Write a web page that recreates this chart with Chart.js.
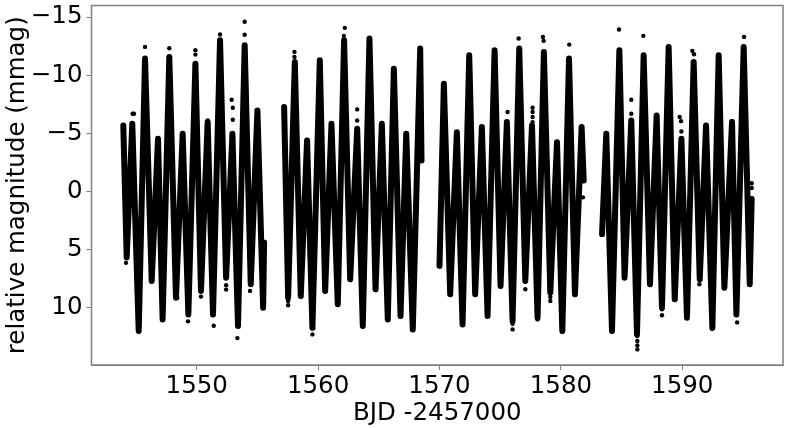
<!DOCTYPE html>
<html>
<head>
<meta charset="utf-8">
<script src="https://cdn.jsdelivr.net/npm/chart.js@4"></script>
<style>body{margin:0;background:#fff}</style>
</head>
<body>
<canvas id="grafico" width="789" height="428"></canvas>
<script>
const xTicks = [1550, 1560, 1570, 1580, 1590];
const yTicks = [-15, -10, -5, 0, 5, 10];

// turning points of the light curve, null marks the gaps between orbits
const tempo = [
  1543.95,1544.23,1544.69,1545.22,1545.74,1546.29,1546.81,1547.19,1547.74,1548.29,1548.84,1549.31,
  1549.89,1550.35,1550.90,1551.34,1551.92,1552.42,1552.94,1553.40,1553.95,1554.45,1555.00,1555.47,1555.55,
  1556.5,
  1557.20,1557.53,1558.08,1558.57,1559.09,1559.53,1560.14,1560.58,1561.10,1561.62,1562.14,1562.64,
  1563.22,1563.68,1564.23,1564.73,1565.25,1565.74,1566.24,1566.79,1567.26,1567.80,1568.41,1568.52,
  1569.3,
  1570.00,1570.36,1570.88,1571.43,1571.90,1572.45,1572.94,1573.49,1573.96,1574.54,1575.03,1575.55,
  1576.02,1576.57,1577.07,1577.62,1578.08,1578.60,1579.13,1579.68,1580.12,1580.67,1581.16,1581.71,1581.88,
  1582.5,
  1583.39,1583.74,1584.21,1584.82,1585.25,1585.80,1586.27,1586.82,1587.34,1587.89,1588.33,1588.88,
  1589.38,1589.93,1590.39,1590.94,1591.44,1591.96,1592.48,1593.00,1593.47,1594.10,1594.46,1595.06,1595.56,1595.72
];
const magnitude = [
  -5.69,5.66,-5.83,11.98,-11.44,7.67,-4.54,10.98,-11.58,9.11,-4.97,10.55,
  -11.0,8.53,-5.98,10.55,-13.02,7.39,-4.97,11.55,-12.59,7.96,-6.98,9.97,4.37,
  null,
  -7.27,9.11,-11.15,8.97,-4.40,11.70,-11.29,8.53,-5.83,9.68,-13.02,7.53,
  -5.40,11.55,-13.16,8.39,-5.83,10.98,-10.57,10.69,-4.97,11.84,-12.30,-2.67,
  null,
  6.38,-9.28,8.82,-5.11,11.41,-11.72,8.82,-5.55,10.69,-12.16,8.10,-5.98,
  11.12,-12.30,7.67,-5.69,10.83,-12.01,8.68,-4.25,11.98,-11.44,8.82,-5.55,-0.95,
  null,
  3.65,-4.97,11.98,-12.16,7.39,-6.12,12.27,-11.72,7.96,-6.55,9.97,-12.44,
  9.25,-4.54,10.83,-11.15,7.53,-5.69,11.70,-11.72,8.25,-5.98,10.55,-12.44,7.96,0.63
];

// isolated points off the main band
const tempoSolto = [
  1545.74,1547.74,1549.89,1549.89,1551.92,1552.88,1552.97,1552.97,1553.95,1553.95,1544.72,1544.83,1550.90,1544.17,
  1549.28,1550.35,1548.40,1551.40,1552.42,1552.42,1553.35,1554.39,
  1557.53,1557.53,1558.05,1558.05,1562.20,1562.12,1563.22,1563.22,1559.59,1559.53,1566.79,
  1576.52,1578.52,1578.58,1580.69,1575.61,1577.67,1577.67,1577.67,1577.67,1577.07,1576.02,1576.02,1579.13,1579.13,
  1578.08,1578.08,1580.12,1581.82,
  1584.79,1586.79,1585.80,1585.80,1589.79,1589.90,1589.93,1590.83,1590.97,1595.09,1591.96,1594.10,
  1586.30,1586.30,1586.30,1586.30,1588.33,1588.33,1591.41,1592.45,1594.52,1595.72,1595.72
];
const magnitudeSolta = [
  -12.44,-12.33,-12.16,-11.78,-13.51,-7.90,-7.21,-6.18,-14.60,-13.48,-6.70,-6.70,-6.12,6.12,
  11.15,9.02,9.11,11.52,8.05,8.42,12.59,8.53,
  9.40,9.77,-12.01,-11.58,-14.08,-13.39,-7.07,-6.12,11.75,12.27,10.75,
  -13.16,-13.30,-12.96,-12.64,-6.84,-7.21,-6.84,-6.41,-5.98,8.39,11.84,11.35,9.05,9.40,
  10.69,10.98,12.04,0.49,
  -13.94,-13.39,-7.90,-6.70,-6.41,-6.06,-5.17,-12.10,-11.81,-13.30,-5.63,-6.06,
  13.56,13.22,12.84,12.41,10.63,10.11,7.96,11.78,11.24,-0.72,-0.32
];

const cinza = "#808080";
const fonte = { family: "'DejaVu Sans'", size: 24.5 };

const moldura = {
  id: "moldura",
  afterDraw(chart) {
    const { ctx, chartArea: a } = chart;
    ctx.save();
    ctx.strokeStyle = cinza;
    ctx.lineWidth = 1.5;
    ctx.strokeRect(a.left, a.top, a.right - a.left, a.bottom - a.top);
    ctx.restore();
  }
};

new Chart(document.getElementById("grafico"), {
  type: "scatter",
  data: {
    datasets: [
      {
        data: tempo.map((t, i) => ({ x: t, y: magnitude[i] })),
        showLine: true,
        spanGaps: false,
        borderColor: "#000",
        borderWidth: 6,
        borderJoinStyle: "round",
        borderCapStyle: "round",
        backgroundColor: "#000",
        pointBorderWidth: 0,
        pointRadius: 2
      },
      {
        data: tempoSolto.map((t, i) => ({ x: t, y: magnitudeSolta[i] })),
        backgroundColor: "#000",
        pointBorderWidth: 0,
        pointRadius: 2.2
      }
    ]
  },
  options: {
    responsive: false,
    animation: false,
    layout: { padding: { top: 5.5, right: 6, left: 0, bottom: 0 } },
    plugins: { legend: { display: false }, tooltip: { enabled: false } },
    scales: {
      x: {
        type: "linear",
        min: 1541.33,
        max: 1598.3,
        afterBuildTicks: s => { s.ticks = xTicks.map(v => ({ value: v })); },
        afterFit: s => { s.height = 63; s.paddingLeft = 0; s.paddingRight = 0; },
        grid: { drawOnChartArea: false, color: cinza, tickLength: 5 },
        border: { color: cinza },
        ticks: { color: "#000", font: fonte, maxRotation: 0, padding: 2, callback: v => String(v) },
        title: { display: true, text: "BJD -2457000", color: "#000", font: fonte, padding: 0 }
      },
      y: {
        reverse: true,
        min: -16,
        max: 14.9,
        afterBuildTicks: s => { s.ticks = yTicks.map(v => ({ value: v })); },
        afterFit: s => { s.width = 91.5; s.paddingTop = 0; s.paddingBottom = 0; },
        grid: { drawOnChartArea: false, color: cinza, tickLength: 5 },
        border: { color: cinza },
        ticks: { color: "#000", font: fonte, padding: 4, callback: v => String(v).replace("-", "\u2212") },
        title: { display: true, text: "relative magnitude (mmag)", color: "#000", font: fonte, padding: { top: 3, bottom: 0 } }
      }
    }
  },
  plugins: [moldura]
});
</script>
</body>
</html>
